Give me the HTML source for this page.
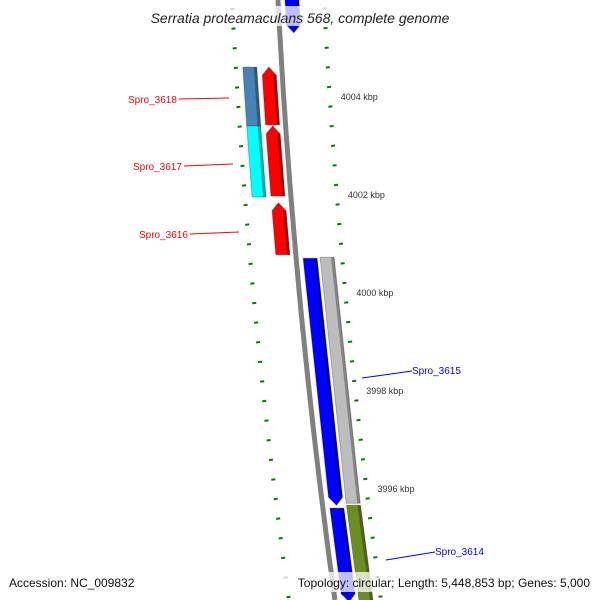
<!DOCTYPE html>
<html><head><meta charset="utf-8"><style>
html,body{margin:0;padding:0;background:#fff}
svg{display:block;font-family:"Liberation Sans",sans-serif}
</style></head><body>
<svg id="map" width="600" height="600" viewBox="0 0 600 600"></svg>
<script>
// data (kbp)
const featNames=["Spro_3618","Spro_3617","Spro_3616","Spro_3615","Spro_3614","top-gene","gray-gene","olive-gene","steel-gene","cyan-gene"];
const featStart=[4004.61,4003.41,4001.84,4000.71,3995.61,4005.98,4000.73,3995.67,4004.61,4003.41];
const featEnd=[4003.43,4001.98,4000.78,3995.67,3993.70,4005.31,3995.71,3993.70,4003.41,4001.96];
const featLane=[-1,-1,-1,1,1,1,2,2,-2,-2];
const featDir=[1,1,1,-1,-1,-1,0,0,0,0];
const featColor=["#ff0000","#ff0000","#ff0000","#0000ff","#0000ff","#0000ff","#bdbdbd","#6b8e23","#4682b4","#00ffff"];
const majorTicks=[4004,4002,4000,3998,3996];
const tickLabels=["4004 kbp","4002 kbp","4000 kbp","3998 kbp","3996 kbp"];
const labelIdx=[0,1,2,3,4];
const labelPos=[[128,103,229,98],[133,170,233,164],[139,238,239,232],[412,374,362,378],[435,555,386,560]];
const labelColor=["#ff0000","#ff0000","#ff0000","#0000ff","#0000ff"];

const NS="http://www.w3.org/2000/svg";
const svg=document.getElementById('map');
function yOf(k){return 97+(4004-k)*49;}
function bx(y){return 278+0.0517*y+7.2e-5*y*y;}
function mk(t,a){const e=document.createElementNS(NS,t);for(const k in a)e.setAttribute(k,a[k]);svg.appendChild(e);return e;}
const laneOff={"-2":[-39,-25],"-1":[-20,-6],"1":[7,21],"2":[24,38]};
// backbone
let d="";for(let y=0;y<=600;y+=10){d+=(y?"L":"M")+bx(y).toFixed(1)+" "+y;}
let bb=mk('path',{d:d,stroke:"#808080","stroke-width":5,fill:"none"});


// ticks
for(let k=4007;k>=3990;k-=0.4){
 const kk=Math.round(k*10)/10;const y=yOf(kk);if(y<-5||y>605)continue;
 const major=majorTicks.some(m=>Math.abs(m-kk)<0.01);
 const w=major?9:4;
 const r=bx(y)+44,l=bx(y)-44;
 let t1=mk('line',{x1:r,y1:y,x2:r+w,y2:y-0.5,stroke:"#008000","stroke-width":2});
 
 
 let t2=mk('line',{x1:l-w,y1:y+0.5,x2:l,y2:y,stroke:"#008000","stroke-width":2});
 
 
}
majorTicks.forEach((m,i)=>{const y=yOf(m);
 let t=mk('text',{x:bx(y)+57,y:y+3,"font-size":9,fill:"#333"});t.textContent=tickLabels[i];
 
 });
// features
featNames.forEach((n,i)=>{
 const y1=yOf(featStart[i]),y2=yOf(featEnd[i]);const o=laneOff[featLane[i]];
 const pts=[];const ah=8;
 let ya=y1,yb=y2;
 if(featDir[i]===1)ya=y1+ah; if(featDir[i]===-1)yb=y2-ah;
 if(featDir[i]===1)pts.push([bx(y1)+(o[0]+o[1])/2,y1]);
 pts.push([bx(ya)+o[1],ya]);pts.push([bx(yb)+o[1],yb]);
 if(featDir[i]===-1)pts.push([bx(y2)+(o[0]+o[1])/2,y2]);
 pts.push([bx(yb)+o[0],yb]);pts.push([bx(ya)+o[0],ya]);
 let p=mk('polygon',{points:pts.map(q=>q[0].toFixed(1)+","+q[1].toFixed(1)).join(" "),fill:featColor[i],stroke:"rgba(0,0,0,0.25)","stroke-width":1});
 
 
 let s=mk('line',{x1:bx(ya)+o[1]-1.5,y1:ya,x2:bx(yb)+o[1]-1.5,y2:yb,stroke:"rgba(0,0,0,0.3)","stroke-width":3});
 
 
});
labelIdx.forEach((fi,i)=>{const L=labelPos[i];
 const right=L[2]<L[0];
 let ln=mk('line',{x1:right?L[0]:L[0]+51,y1:right?L[1]-3:L[1]-4,x2:L[2],y2:L[3],stroke:labelColor[i],"stroke-width":1});
 
 
 let t=mk('text',{x:L[0],y:L[1],"font-size":10,fill:labelColor[i]});t.textContent=featNames[fi];
 
 });
// title & footer
let tb=mk('rect',{x:133,y:6,width:333,height:20,fill:"rgba(255,255,255,0.75)"});


let tt=mk('text',{x:300,y:23,"font-size":14,"font-style":"italic","text-anchor":"middle",fill:"#222"});tt.textContent="Serratia proteamaculans 568, complete genome";


let fb=mk('rect',{x:258,y:572,width:336,height:20,fill:"rgba(255,255,255,0.75)"});


let f1=mk('text',{x:9,y:587,"font-size":12,fill:"#111"});f1.textContent="Accession: NC_009832";


let f2=mk('text',{x:590,y:587,"font-size":12,"text-anchor":"end",fill:"#111"});f2.textContent="Topology: circular; Length: 5,448,853 bp; Genes: 5,000";


</script>
</body></html>
